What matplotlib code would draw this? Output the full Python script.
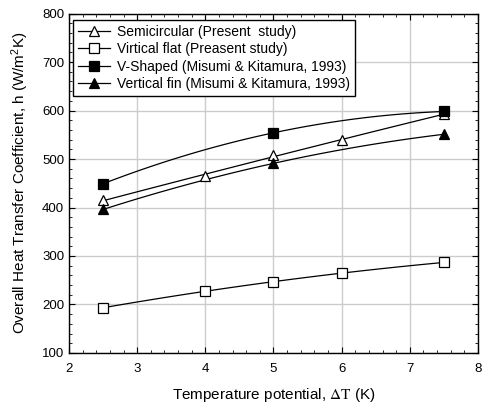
import numpy as np
import matplotlib
matplotlib.use('Agg')
from matplotlib import pyplot
from matplotlib.ticker import MultipleLocator

pyplot.rcParams['font.family'] = ['Liberation Sans', 'DejaVu Sans']
pyplot.rcParams['mathtext.fontset'] = 'custom'
pyplot.rcParams['mathtext.rm'] = 'Liberation Sans'
pyplot.rcParams['mathtext.it'] = 'Liberation Sans:italic'

# data
dt_study = [2.5, 4, 5, 6, 7.5]
h_semicircular = [415, 465, 508, 540, 592]
h_flat = [193, 228, 247, 264, 287]

dt_misumi = [2.5, 5, 7.5]
h_vshaped = [449, 554, 598]
h_vfin = [396, 491, 551]


def smooth(x, y, deg=2):
    # draw a gentle curve through the points (quadratic fit)
    c = np.polyfit(np.array(x, float), np.array(y, float), deg)
    xs = np.linspace(min(x), max(x), 100)
    return xs, np.polyval(c, xs)


fig = pyplot.figure(figsize=(4.83, 4.07), dpi=100)
ax = fig.add_axes([0.1429, 0.1327, 0.8467, 0.8341])

series = [
    (dt_study, h_semicircular, '^', 'white', 'Semicircular (Present  study)'),
    (dt_study, h_flat, 's', 'white', 'Virtical flat (Preasent study)'),
    (dt_misumi, h_vshaped, 's', 'black', 'V-Shaped (Misumi & Kitamura, 1993)'),
    (dt_misumi, h_vfin, '^', 'black', 'Vertical fin (Misumi & Kitamura, 1993)'),
]

for x, y, m, fc, lab in series:
    xs, ys = smooth(x, y)
    ax.plot(xs, ys, color='black', lw=0.9, zorder=2)
    ax.plot(x, y, ls='none', marker=m, ms=6.5, mfc=fc, mec='black', mew=0.9, zorder=3)
    ax.plot([], [], color='black', lw=0.9, marker=m, ms=6.5, mfc=fc, mec='black',
            mew=0.9, label=lab)

ax.set_xlim(2, 8)
ax.set_ylim(100, 800)
ax.xaxis.set_major_locator(MultipleLocator(1))
ax.xaxis.set_minor_locator(MultipleLocator(0.2))
ax.yaxis.set_major_locator(MultipleLocator(100))
ax.yaxis.set_minor_locator(MultipleLocator(20))
ax.tick_params(which='both', direction='in', top=True, right=True, labelsize=9.5,
               color='black')
ax.tick_params(which='major', length=4)
ax.tick_params(which='minor', length=2.5)
ax.tick_params(axis='x', pad=7)
ax.grid(True, which='major', color='#cccccc', lw=1, zorder=0)
ax.set_axisbelow(True)
for s in ax.spines.values():
    s.set_linewidth(1)

ax.set_xlabel('Temperature potential, $\\Delta\\mathrm{T}$ (K)', fontsize=11, labelpad=8,
              math_fontfamily='stix')
ax.set_ylabel('Overall Heat Transfer Coefficient, h (W/m$^2$K)', fontsize=11, labelpad=8)

leg = ax.legend(loc='upper left', bbox_to_anchor=(0.01, 0.981), fontsize=10,
                frameon=True, fancybox=False, edgecolor='black', framealpha=1,
                handlelength=2.3, handletextpad=0.5, borderpad=0.35, labelspacing=0.25,
                borderaxespad=0)
leg.get_frame().set_linewidth(1)

fig.savefig('out.png', dpi=100)
